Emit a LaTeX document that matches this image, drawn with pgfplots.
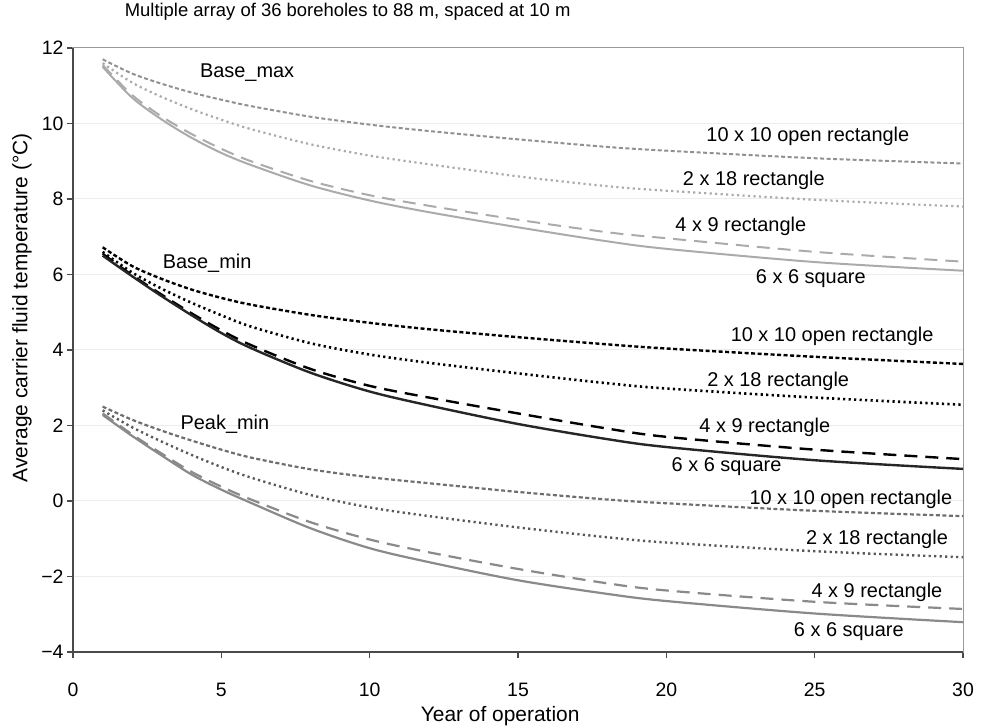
\documentclass[border=0pt]{standalone}
\usepackage{pgfplots}
\usepackage{pgfplotstable}
\pgfplotsset{compat=1.18}
\usepackage{fontspec}
\setmainfont{Liberation Sans}

% Average carrier fluid temperature per year, columns:
% 10 x 10 open rectangle, 2 x 18 rectangle, 4 x 9 rectangle, 6 x 6 square
\pgfplotstableread{
year tenten twoeighteen fournine sixsix
1  11.70 11.60 11.55 11.50
2  11.32 11.08 10.75 10.68
3  11.05 10.70 10.18 10.10
4  10.82 10.38  9.72  9.62
5  10.63 10.10  9.33  9.22
6  10.46  9.85  9.00  8.90
8  10.18  9.45  8.48  8.36
10  9.97  9.15  8.10  7.96
12  9.80  8.92  7.82  7.65
15  9.58  8.60  7.45  7.25
18  9.38  8.34  7.12  6.88
20  9.28  8.22  6.96  6.68
25  9.08  7.98  6.60  6.33
30  8.94  7.80  6.34  6.10
}\basemax

\pgfplotstableread{
year tenten twoeighteen fournine sixsix
1  6.72 6.60 6.55 6.50
2  6.22 6.05 5.98 5.95
3  5.88 5.62 5.46 5.42
4  5.60 5.25 4.97 4.92
5  5.38 4.92 4.52 4.45
6  5.20 4.62 4.13 4.05
8  4.93 4.18 3.50 3.40
10 4.72 3.88 3.05 2.90
12 4.55 3.66 2.74 2.53
15 4.34 3.38 2.32 2.04
18 4.15 3.12 1.92 1.64
20 4.04 2.98 1.70 1.43
25 3.82 2.74 1.36 1.08
30 3.63 2.55 1.11 0.85
}\basemin

\pgfplotstableread{
year tenten twoeighteen fournine sixsix
1   2.50  2.40  2.32  2.28
2   2.15  1.95  1.76  1.72
3   1.86  1.57  1.25  1.20
4   1.60  1.22  0.77  0.70
5   1.36  0.90  0.38  0.30
6   1.15  0.62  0.04 -0.05
8   0.84  0.16 -0.56 -0.72
10  0.63 -0.17 -1.02 -1.25
12  0.47 -0.40 -1.36 -1.62
15  0.24 -0.70 -1.80 -2.10
18  0.04 -0.96 -2.18 -2.46
20 -0.06 -1.10 -2.37 -2.65
25 -0.26 -1.33 -2.67 -2.98
30 -0.40 -1.49 -2.86 -3.21
}\peakmin

\definecolor{axisgray}{HTML}{4A4A4A}
\definecolor{framegray}{HTML}{9A9A9A}
\definecolor{maxgray}{HTML}{ABABAB}
\definecolor{peakdark}{HTML}{6E6E6E}
\definecolor{peakgray}{HTML}{8A8A8A}

\tikzset{
  shortdash/.style={dash pattern=on 4bp off 2.5bp},
  dotline/.style={dash pattern=on 2.2bp off 3.3bp},
  longdash/.style={dash pattern=on 13bp off 8bp},
  curvelabel/.style={font=\fontsize{20}{24}\selectfont, inner sep=0pt, anchor=center},
}

\begin{document}
\begin{tikzpicture}
\begin{axis}[
  scale only axis,
  width=890bp, height=604bp,
  xmin=0, xmax=30, ymin=-4, ymax=12,
  xtick={0,5,...,30},
  ytick={-4,-2,...,12},
  xticklabels={0,5,10,15,20,25,30},
  yticklabels={−4,−2,0,2,4,6,8,10,12},
  tick label style={font=\fontsize{19.5}{22}\selectfont},
  xticklabel style={anchor=base, yshift=-38bp},
  xtick pos=bottom,
  ytick pos=left,
  tick align=outside,
  major tick length=6bp,
  tick style={axisgray, line width=1.1bp},
  axis line style={framegray, line width=1bp},
  ymajorgrids,
  grid style={gray!15, line width=1bp},
  xlabel={Year of operation},
  ylabel={Average carrier fluid temperature (°C)},
  label style={font=\fontsize{21}{24}\selectfont},
  xlabel style={at={(axis description cs:0.48,0)}, yshift=-64bp, anchor=center},
  ylabel style={at={(axis description cs:-0.0573,0.57)}, anchor=center},
  clip=false,
  smooth,
]
% Base_max group
\addplot[maxgray!85!black, line width=2bp, shortdash] table[x=year, y=tenten] {\basemax};
\addplot[maxgray, line width=2.2bp, dotline] table[x=year, y=twoeighteen] {\basemax};
\addplot[maxgray, line width=2bp, longdash] table[x=year, y=fournine] {\basemax};
\addplot[maxgray, line width=2bp] table[x=year, y=sixsix] {\basemax};
% Base_min group
\addplot[black, line width=2.4bp, shortdash] table[x=year, y=tenten] {\basemin};
\addplot[black, line width=2.6bp, dotline] table[x=year, y=twoeighteen] {\basemin};
\addplot[black, line width=2.4bp, longdash] table[x=year, y=fournine] {\basemin};
\addplot[black!85, line width=2.4bp] table[x=year, y=sixsix] {\basemin};
% Peak_min group
\addplot[peakdark, line width=2.2bp, shortdash] table[x=year, y=tenten] {\peakmin};
\addplot[peakdark!80!black, line width=2.4bp, dotline] table[x=year, y=twoeighteen] {\peakmin};
\addplot[peakgray, line width=2.2bp, longdash] table[x=year, y=fournine] {\peakmin};
\addplot[peakgray, line width=2.2bp] table[x=year, y=sixsix] {\peakmin};

% darker left and bottom axis lines
\draw[axisgray, line width=1.4bp] (rel axis cs:0,1) -- (rel axis cs:0,0) -- (rel axis cs:1,0);

% curve labels
\node[curvelabel] at (axis cs:5.87,11.35) {Base\_max};
\node[curvelabel] at (axis cs:24.77,9.66) {10 x 10 open rectangle};
\node[curvelabel] at (axis cs:22.95,8.49) {2 x 18 rectangle};
\node[curvelabel] at (axis cs:22.51,7.27) {4 x 9 rectangle};
\node[curvelabel] at (axis cs:24.87,5.89) {6 x 6 square};

\node[curvelabel] at (axis cs:4.52,6.29) {Base\_min};
\node[curvelabel] at (axis cs:25.59,4.35) {10 x 10 open rectangle};
\node[curvelabel] at (axis cs:23.77,3.18) {2 x 18 rectangle};
\node[curvelabel] at (axis cs:23.32,1.96) {4 x 9 rectangle};
\node[curvelabel] at (axis cs:22.03,0.90) {6 x 6 square};

\node[curvelabel] at (axis cs:5.12,2.04) {Peak\_min};
\node[curvelabel] at (axis cs:26.22,0.05) {10 x 10 open rectangle};
\node[curvelabel] at (axis cs:27.10,-1.01) {2 x 18 rectangle};
\node[curvelabel] at (axis cs:27.10,-2.41) {4 x 9 rectangle};
\node[curvelabel] at (axis cs:26.15,-3.45) {6 x 6 square};

% heading above the plot area
\node[font=\fontsize{18.5}{22}\selectfont, anchor=west, inner sep=0pt]
  at ([yshift=36bp]axis description cs:0.058,1) {Multiple array of 36 boreholes to 88 m, spaced at 10 m};
\end{axis}
\pgfresetboundingbox
\path[use as bounding box] (-73bp,-75bp) rectangle (910bp,652bp);
\end{tikzpicture}
\end{document}
